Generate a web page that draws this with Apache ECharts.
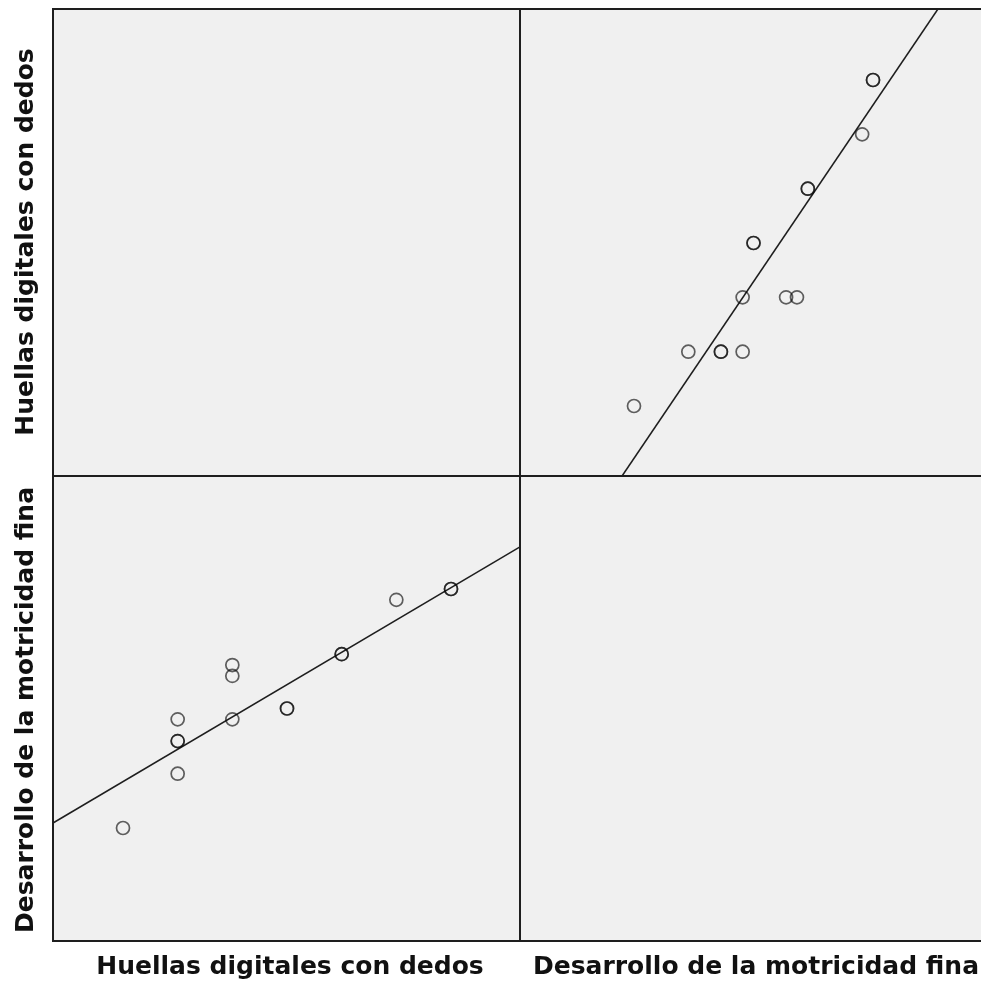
<!DOCTYPE html>
<html>
<head>
<meta charset="utf-8">
<script src="https://cdn.jsdelivr.net/npm/echarts@6/dist/echarts.min.js"></script>
<style>
html,body{margin:0;padding:0;background:#fff;}
#chart{width:981px;height:987px;}
</style>
</head>
<body>
<div id="chart"></div>
<script>
// Variable names
const varNames = ['Huellas digitales con dedos', 'Desarrollo de la motricidad fina'];
// Observations (overlapping points repeated)
const huellas    = [1, 2, 2, 2, 2, 3, 3, 3, 4, 4, 5, 5, 6, 7, 7];
const desarrollo = [20, 25, 28, 28, 30, 30, 34, 35, 31, 31, 36, 36, 41, 42, 42];
// Axis ranges (no ticks displayed)
const huellasRangeX = [-0.2805, 8.262];
const huellasRangeY = [-0.288, 8.307];
const desarrolloRangeX = [9.507, 51.94];
const desarrolloRangeY = [9.60, 52.40];
// Fit lines (endpoints at axis limits)
const fitDesOnHue_H = [-0.2805, 8.262];
const fitDesOnHue_D = [20.46, 45.87];
const fitHueOnDes_D = [18.90, 47.98];
const fitHueOnDes_H = [-0.288, 8.307];

const chart = echarts.init(document.getElementById('chart'), null, {renderer: 'canvas'});

const panel = {show: true, backgroundColor: '#f0f0f0', borderWidth: 0};
const grids = [
  Object.assign({left: 53, top: 9, width: 467, height: 467}, panel),   // TL
  Object.assign({left: 520, top: 9, width: 461, height: 467}, panel),  // TR
  Object.assign({left: 53, top: 476, width: 467, height: 465}, panel), // BL
  Object.assign({left: 520, top: 476, width: 461, height: 465}, panel) // BR
];
function ax(i, r){ return {type: 'value', gridIndex: i, min: r[0], max: r[1], show: false}; }
const xAxes = [ax(0, huellasRangeX), ax(1, desarrolloRangeX), ax(2, huellasRangeX), ax(3, desarrolloRangeX)];
const yAxes = [ax(0, huellasRangeY), ax(1, huellasRangeY), ax(2, desarrolloRangeY), ax(3, desarrolloRangeY)];

const pointStyle = {color: 'rgba(0,0,0,0)', borderColor: 'rgba(10,10,10,0.8)', borderWidth: 1.7};

const series = [
  {
    type: 'scatter', xAxisIndex: 1, yAxisIndex: 1, symbol: 'circle', symbolSize: 13,
    data: desarrollo.map((d, i) => [d, huellas[i]]), itemStyle: pointStyle, silent: true, z: 3
  },
  {
    type: 'scatter', xAxisIndex: 2, yAxisIndex: 2, symbol: 'circle', symbolSize: 13,
    data: huellas.map((h, i) => [h, desarrollo[i]]), itemStyle: pointStyle, silent: true, z: 3
  },
  {
    type: 'line', xAxisIndex: 1, yAxisIndex: 1, symbol: 'none', clip: true,
    data: fitHueOnDes_D.map((d, i) => [d, fitHueOnDes_H[i]]),
    lineStyle: {color: '#1e1e1e', width: 1.5}, silent: true, z: 2
  },
  {
    type: 'line', xAxisIndex: 2, yAxisIndex: 2, symbol: 'none', clip: true,
    data: fitDesOnHue_H.map((h, i) => [h, fitDesOnHue_D[i]]),
    lineStyle: {color: '#1e1e1e', width: 1.5}, silent: true, z: 2
  }
];

const labelFont = {fontFamily: '"DejaVu Sans", Verdana, sans-serif', fontWeight: 'bold', fontSize: 25, fill: '#111'};
const frameStyle = {stroke: '#1e1e1e', lineWidth: 2};
function frameLine(x1, y1, x2, y2){ return {type: 'line', shape: {x1, y1, x2, y2}, style: frameStyle, z: 100, silent: true}; }
const graphic = [
  frameLine(53, 9, 981, 9),
  frameLine(53, 476, 981, 476),
  frameLine(53, 941, 981, 941),
  frameLine(53, 8, 53, 942),
  frameLine(520, 8, 520, 942),
  {type: 'text', x: 290, y: 967, style: Object.assign({text: varNames[0], align: 'center', verticalAlign: 'middle'}, labelFont)},
  {type: 'text', x: 756, y: 967, style: Object.assign({text: varNames[1], align: 'center', verticalAlign: 'middle'}, labelFont)},
  {type: 'text', x: 26, y: 242, rotation: Math.PI / 2, style: Object.assign({text: varNames[0], align: 'center', verticalAlign: 'middle'}, labelFont)},
  {type: 'text', x: 26, y: 710, rotation: Math.PI / 2, style: Object.assign({text: varNames[1], align: 'center', verticalAlign: 'middle'}, labelFont)}
];

chart.setOption({
  animation: false,
  backgroundColor: '#ffffff',
  grid: grids,
  xAxis: xAxes,
  yAxis: yAxes,
  series: series,
  graphic: graphic
});
</script>
</body>
</html>
